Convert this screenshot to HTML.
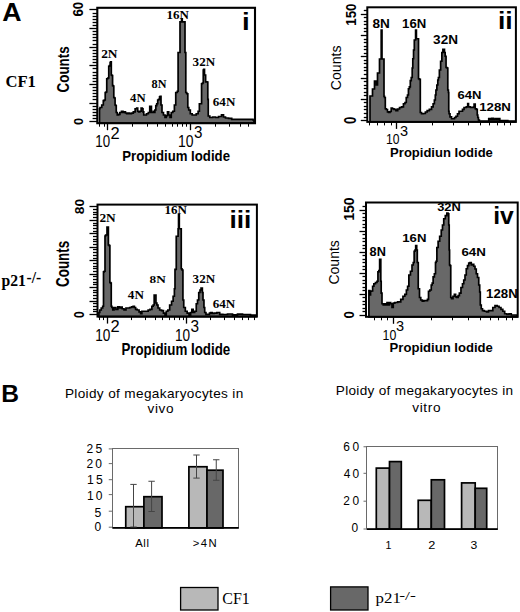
<!DOCTYPE html><html><head><meta charset="utf-8"><style>html,body{margin:0;padding:0;background:#fff;}svg{display:block;}</style></head><body>
<svg width="520" height="612" viewBox="0 0 520 612">
<rect width="520" height="612" fill="#fff"/>
<text transform="translate(2.23 20.5) scale(1.0092 1)" font-family="'Liberation Sans', sans-serif" font-weight="bold" font-size="26.473" fill="#000" >A</text>
<text transform="translate(1.34 402) scale(0.9945 1)" font-family="'Liberation Sans', sans-serif" font-weight="bold" font-size="24.727" fill="#000" >B</text>
<text transform="translate(5.42 86.9) scale(0.9743 1)" font-family="'Liberation Serif', serif" font-weight="bold" font-size="17.057" fill="#000" >CF1</text>
<text transform="translate(1.5 286.2) scale(0.9207 1)" font-family="'Liberation Serif', serif" font-weight="bold" font-size="17.057" fill="#000" >p21</text>
<text transform="translate(26.62 282.7) scale(0.9109 1)" font-family="'Liberation Serif', serif" font-weight="bold" font-size="17.034" fill="#000" >-/-</text>
<path d="M99.5,123.2 L99.5,108.75 L100,108.75 L100,107.5 L100.5,107.5 L101.75,107.5 L101.75,105 L103,105 L103.3,105 L103.3,100.6 L103.6,100.6 L104.25,100.6 L104.25,100 L104.9,100 L105.2,100 L105.2,92.5 L105.5,92.5 L106,92.5 L106,92 L106.5,92 L106.75,92 L106.75,78.75 L107,78.75 L107.75,78.75 L107.75,78 L108.5,78 L108.75,78 L108.75,66.25 L109,66.25 L109.5,66.25 L109.5,65.5 L110,65.5 L110.12,65.5 L110.12,62.5 L110.25,62.5 L110.67,62.5 L110.67,61.9 L111.1,61.9 L111.3,61.9 L111.3,75 L111.5,75 L111.95,75 L111.95,75.5 L112.4,75.5 L112.58,75.5 L112.58,85.6 L112.75,85.6 L113.17,85.6 L113.17,86 L113.6,86 L113.8,86 L113.8,97.5 L114,97.5 L114.45,97.5 L114.45,98 L114.9,98 L115.08,98 L115.08,105 L115.25,105 L115.62,105 L115.62,105.5 L116,105.5 L116.25,105.5 L116.25,112.5 L116.5,112.5 L117.25,112.5 L117.25,115 L118,115 L118.62,115 L118.62,114.4 L119.25,114.4 L119.88,114.4 L119.88,112.5 L120.5,112.5 L121.45,112.5 L121.45,111.25 L122.4,111.25 L123,111.25 L123,112.5 L123.6,112.5 L124.25,112.5 L124.25,111.9 L124.9,111.9 L125.45,111.9 L125.45,113 L126,113 L126.7,113 L126.7,113.75 L127.4,113.75 L128,113.75 L128,113.1 L128.6,113.1 L129.55,113.1 L129.55,113.75 L130.5,113.75 L131.45,113.75 L131.45,113.1 L132.4,113.1 L133.32,113.1 L133.32,111.9 L134.25,111.9 L135.12,111.9 L135.12,108.75 L136,108.75 L136.7,108.75 L136.7,108.1 L137.4,108.1 L137.7,108.1 L137.7,111.25 L138,111.25 L138.62,111.25 L138.62,111.9 L139.25,111.9 L139.88,111.9 L139.88,111.25 L140.5,111.25 L141.12,111.25 L141.12,108 L141.75,108 L142.25,108 L142.25,108.75 L142.75,108.75 L143,108.75 L143,111.9 L143.25,111.9 L143.75,111.9 L143.75,115 L144.25,115 L145.5,115 L146.45,115 L146.45,113.75 L147.4,113.75 L148.32,113.75 L148.32,112.5 L149.25,112.5 L149.75,112.5 L149.75,106.25 L150.25,106.25 L151.1,106.25 L151.43,106.25 L151.43,112.5 L151.75,112.5 L153,112.5 L153.3,112.5 L153.3,111.25 L153.6,111.25 L153.93,111.25 L153.93,112.5 L154.25,112.5 L154.88,112.5 L154.88,110 L155.5,110 L155.8,110 L155.8,105.6 L156.1,105.6 L156.75,105.6 L156.75,103.75 L157.4,103.75 L157.7,103.75 L157.7,100 L158,100 L158.62,100 L158.62,99.4 L159.25,99.4 L159.57,99.4 L159.57,96.9 L159.9,96.9 L160.2,96.9 L160.2,96.25 L160.5,96.25 L161,96.25 L161,105 L161.5,105 L162,105 L162,112.5 L162.5,112.5 L163.45,112.5 L163.45,115 L164.4,115 L165,115 L165,117.5 L165.6,117.5 L166.25,117.5 L166.25,115.6 L166.9,115.6 L167.5,115.6 L167.5,111.9 L168.1,111.9 L168.75,111.9 L168.75,115 L169.4,115 L170,115 L170,117.5 L170.6,117.5 L171.25,117.5 L171.25,112.5 L171.9,112.5 L172.82,112.5 L172.82,111.25 L173.75,111.25 L174.38,111.25 L174.38,105 L175,105 L175.75,105 L175.75,92.5 L176.5,92.5 L177.3,92.5 L177.3,91.25 L178.1,91.25 L178.1,52.5 L180,52.5 L180,21.9 L181.5,21.9 L181.55,21.9 L181.55,18.75 L181.6,18.75 L182.2,18.75 L182.25,18.75 L182.25,21.9 L182.3,21.9 L185,21.9 L185,52.5 L185.6,52.5 L185.8,52.5 L185.8,92.5 L186,92.5 L186.75,92.5 L186.75,93.75 L187.5,93.75 L187.8,93.75 L187.8,107.5 L188.1,107.5 L188.75,107.5 L188.75,110 L189.4,110 L190.32,110 L190.32,113.75 L191.25,113.75 L192.18,113.75 L192.18,115 L193.1,115 L195,115 L196.25,115 L196.25,113.75 L197.5,113.75 L198.12,113.75 L198.12,111.25 L198.75,111.25 L199.38,111.25 L199.38,103.75 L200,103.75 L201.25,103.75 L201.57,103.75 L201.57,83.75 L201.9,83.75 L202.45,83.75 L202.45,83 L203,83 L203.25,83 L203.25,70 L203.5,70 L203.75,70 L203.75,69.4 L204,69.4 L204.5,69.4 L204.5,75 L205,75 L205.62,75 L205.62,81.9 L206.25,81.9 L206.88,81.9 L206.88,82 L207.5,82 L207.8,82 L207.8,99.4 L208.1,99.4 L208.25,99.4 L208.25,116 L208.4,116 L209.82,116 L209.82,117.5 L211.25,117.5 L212.62,117.5 L212.62,117 L214,117 L215.5,117 L215.5,117.5 L217,117.5 L218.5,117.5 L218.5,116.5 L220,116.5 L221.5,116.5 L221.5,114.8 L223,114.8 L223.5,114.8 L223.5,117 L224,117 L225.5,117 L225.5,118 L227,118 L228.5,118 L228.5,118.3 L230,118.3 L231.7,118.3 L231.7,119.4 L233.4,119.4 L251.9,119.4 L252.95,119.4 L252.95,120 L254,120 L254,123.2 Z" fill="#686868" stroke="#000" stroke-width="1.7" stroke-linejoin="miter"/>
<rect x="97.3" y="7.8" width="157.7" height="115.4" fill="none" stroke="#000" stroke-width="2.1"/>
<line x1="89.4" y1="121.5" x2="97.4" y2="121.5" stroke="#000" stroke-width="1.3"/>
<line x1="92.6" y1="118.5" x2="97.4" y2="118.5" stroke="#000" stroke-width="1.3"/>
<line x1="92.6" y1="115.5" x2="97.4" y2="115.5" stroke="#000" stroke-width="1.3"/>
<line x1="92.6" y1="112.5" x2="97.4" y2="112.5" stroke="#000" stroke-width="1.3"/>
<line x1="92.6" y1="109.5" x2="97.4" y2="109.5" stroke="#000" stroke-width="1.3"/>
<line x1="92.6" y1="106.5" x2="97.4" y2="106.5" stroke="#000" stroke-width="1.3"/>
<line x1="89.4" y1="103.5" x2="97.4" y2="103.5" stroke="#000" stroke-width="1.3"/>
<line x1="92.6" y1="99.5" x2="97.4" y2="99.5" stroke="#000" stroke-width="1.3"/>
<line x1="92.6" y1="96.5" x2="97.4" y2="96.5" stroke="#000" stroke-width="1.3"/>
<line x1="92.6" y1="93.5" x2="97.4" y2="93.5" stroke="#000" stroke-width="1.3"/>
<line x1="92.6" y1="90.5" x2="97.4" y2="90.5" stroke="#000" stroke-width="1.3"/>
<line x1="92.6" y1="87.5" x2="97.4" y2="87.5" stroke="#000" stroke-width="1.3"/>
<line x1="89.4" y1="84.5" x2="97.4" y2="84.5" stroke="#000" stroke-width="1.3"/>
<line x1="92.6" y1="81.5" x2="97.4" y2="81.5" stroke="#000" stroke-width="1.3"/>
<line x1="92.6" y1="78.5" x2="97.4" y2="78.5" stroke="#000" stroke-width="1.3"/>
<line x1="92.6" y1="75.5" x2="97.4" y2="75.5" stroke="#000" stroke-width="1.3"/>
<line x1="92.6" y1="72.5" x2="97.4" y2="72.5" stroke="#000" stroke-width="1.3"/>
<line x1="92.6" y1="68.5" x2="97.4" y2="68.5" stroke="#000" stroke-width="1.3"/>
<line x1="89.4" y1="65.5" x2="97.4" y2="65.5" stroke="#000" stroke-width="1.3"/>
<line x1="92.6" y1="62.5" x2="97.4" y2="62.5" stroke="#000" stroke-width="1.3"/>
<line x1="92.6" y1="59.5" x2="97.4" y2="59.5" stroke="#000" stroke-width="1.3"/>
<line x1="92.6" y1="56.5" x2="97.4" y2="56.5" stroke="#000" stroke-width="1.3"/>
<line x1="92.6" y1="53.5" x2="97.4" y2="53.5" stroke="#000" stroke-width="1.3"/>
<line x1="92.6" y1="50.5" x2="97.4" y2="50.5" stroke="#000" stroke-width="1.3"/>
<line x1="89.4" y1="47.5" x2="97.4" y2="47.5" stroke="#000" stroke-width="1.3"/>
<line x1="92.6" y1="44.5" x2="97.4" y2="44.5" stroke="#000" stroke-width="1.3"/>
<line x1="92.6" y1="40.5" x2="97.4" y2="40.5" stroke="#000" stroke-width="1.3"/>
<line x1="92.6" y1="37.5" x2="97.4" y2="37.5" stroke="#000" stroke-width="1.3"/>
<line x1="92.6" y1="34.5" x2="97.4" y2="34.5" stroke="#000" stroke-width="1.3"/>
<line x1="92.6" y1="31.5" x2="97.4" y2="31.5" stroke="#000" stroke-width="1.3"/>
<line x1="89.4" y1="28.5" x2="97.4" y2="28.5" stroke="#000" stroke-width="1.3"/>
<line x1="92.6" y1="25.5" x2="97.4" y2="25.5" stroke="#000" stroke-width="1.3"/>
<line x1="92.6" y1="22.5" x2="97.4" y2="22.5" stroke="#000" stroke-width="1.3"/>
<line x1="92.6" y1="19.5" x2="97.4" y2="19.5" stroke="#000" stroke-width="1.3"/>
<line x1="92.6" y1="16.5" x2="97.4" y2="16.5" stroke="#000" stroke-width="1.3"/>
<line x1="92.6" y1="13.5" x2="97.4" y2="13.5" stroke="#000" stroke-width="1.3"/>
<line x1="89.4" y1="9.5" x2="97.4" y2="9.5" stroke="#000" stroke-width="1.3"/>
<line x1="99.5" y1="123.2" x2="99.5" y2="126.7" stroke="#000" stroke-width="1.0"/>
<line x1="104.5" y1="123.2" x2="104.5" y2="126.7" stroke="#000" stroke-width="1.0"/>
<line x1="107.5" y1="123.2" x2="107.5" y2="130.2" stroke="#000" stroke-width="1.3"/>
<line x1="132.5" y1="123.2" x2="132.5" y2="126.7" stroke="#000" stroke-width="1.0"/>
<line x1="147.5" y1="123.2" x2="147.5" y2="126.7" stroke="#000" stroke-width="1.0"/>
<line x1="157.5" y1="123.2" x2="157.5" y2="126.7" stroke="#000" stroke-width="1.0"/>
<line x1="165.5" y1="123.2" x2="165.5" y2="126.7" stroke="#000" stroke-width="1.0"/>
<line x1="172.5" y1="123.2" x2="172.5" y2="126.7" stroke="#000" stroke-width="1.0"/>
<line x1="177.5" y1="123.2" x2="177.5" y2="126.7" stroke="#000" stroke-width="1.0"/>
<line x1="182.5" y1="123.2" x2="182.5" y2="126.7" stroke="#000" stroke-width="1.0"/>
<line x1="186.5" y1="123.2" x2="186.5" y2="126.7" stroke="#000" stroke-width="1.0"/>
<line x1="190.5" y1="123.2" x2="190.5" y2="130.2" stroke="#000" stroke-width="1.3"/>
<line x1="215.5" y1="123.2" x2="215.5" y2="126.7" stroke="#000" stroke-width="1.0"/>
<line x1="229.5" y1="123.2" x2="229.5" y2="126.7" stroke="#000" stroke-width="1.0"/>
<line x1="240.5" y1="123.2" x2="240.5" y2="126.7" stroke="#000" stroke-width="1.0"/>
<line x1="248.5" y1="123.2" x2="248.5" y2="126.7" stroke="#000" stroke-width="1.0"/>
<text transform="translate(83 16.5) rotate(-90) scale(0.9255 1)" font-family="'Liberation Sans', sans-serif" font-weight="bold" font-size="14.337">60</text>
<text transform="translate(83 125.11) rotate(-90) scale(0.9953 1)" font-family="'Liberation Sans', sans-serif" font-weight="bold" font-size="12.903">0</text>
<text transform="translate(68.8 92.44) rotate(-90) scale(0.7715 1)" font-family="'Liberation Sans', sans-serif" font-weight="bold" font-size="17.348">Counts</text>
<text transform="translate(95.3 147.4) scale(0.8017 1)" font-family="'Liberation Sans', sans-serif" font-weight="normal" font-size="16.631" fill="#000" >10</text>
<text transform="translate(110.48 139.3) scale(0.9743 1)" font-family="'Liberation Sans', sans-serif" font-weight="normal" font-size="16.918" fill="#000" >2</text>
<text transform="translate(177.95 146.9) scale(0.8379 1)" font-family="'Liberation Sans', sans-serif" font-weight="normal" font-size="16.631" fill="#000" >10</text>
<text transform="translate(194.03 138.4) scale(0.9440 1)" font-family="'Liberation Sans', sans-serif" font-weight="normal" font-size="16.057" fill="#000" >3</text>
<text transform="translate(122.21 160.75) scale(0.9162 1)" font-family="'Liberation Sans', sans-serif" font-weight="bold" font-size="14.414" fill="#000" >Propidium Iodide</text>
<text transform="translate(101.18 58.1) scale(1.0964 1)" font-family="'Liberation Serif', serif" font-weight="bold" font-size="12.226" fill="#000" >2N</text>
<text transform="translate(130.09 101.9) scale(1.0274 1)" font-family="'Liberation Serif', serif" font-weight="bold" font-size="12.395" fill="#000" >4N</text>
<text transform="translate(151.6 87.5) scale(1.0000 1)" font-family="'Liberation Serif', serif" font-weight="bold" font-size="12.180" fill="#000" >8N</text>
<text transform="translate(166.46 18.75) scale(0.9871 1)" font-family="'Liberation Serif', serif" font-weight="bold" font-size="13.208" fill="#000" >16N</text>
<text transform="translate(192.61 66.25) scale(1.0644 1)" font-family="'Liberation Serif', serif" font-weight="bold" font-size="12.302" fill="#000" >32N</text>
<text transform="translate(212.84 106.1) scale(1.0072 1)" font-family="'Liberation Serif', serif" font-weight="bold" font-size="12.981" fill="#000" >64N</text>
<text transform="translate(242.07 29.8) scale(1.1256 1)" font-family="'Liberation Sans', sans-serif" font-weight="bold" font-size="24.552" fill="#000" >i</text>
<path d="M370,121.9 L370,96 L372.5,96 L372.5,89 L374.5,89 L374.5,81 L376,81 L376.25,81 L376.25,85 L376.5,85 L377.5,85 L377.5,73 L379.5,73 L379.5,59 L381.2,59 L381.2,30 L382,30 L382,59 L384,59 L384,96.25 L384.5,96.25 L384.5,97.5 L385,97.5 L385.3,97.5 L385.3,108.75 L385.6,108.75 L386.3,108.75 L386.3,109.5 L387,109.5 L387.5,109.5 L387.5,111.9 L388,111.9 L388.7,111.9 L388.7,112.5 L389.4,112.5 L389.95,112.5 L389.95,111.5 L390.5,111.5 L391.2,111.5 L391.2,108.1 L391.9,108.1 L392.45,108.1 L392.45,108.75 L393,108.75 L394,108.75 L394,109.4 L395,109.4 L395.95,109.4 L395.95,110.6 L396.9,110.6 L397.7,110.6 L397.7,109 L398.5,109 L399.55,109 L399.55,107.5 L400.6,107.5 L401.55,107.5 L401.55,106.9 L402.5,106.9 L403.45,106.9 L403.45,103.75 L404.4,103.75 L405,103.75 L405,102.5 L405.6,102.5 L406.25,102.5 L406.25,97.5 L406.9,97.5 L407.5,97.5 L407.5,95 L408.1,95 L408.43,95 L408.43,88.75 L408.75,88.75 L409.38,88.75 L409.38,86.9 L410,86.9 L410.3,86.9 L410.3,80.6 L410.6,80.6 L411.25,80.6 L411.25,77.5 L411.9,77.5 L412.2,77.5 L412.2,68 L412.5,68 L412.8,68 L412.8,58.75 L413.1,58.75 L413.55,58.75 L413.55,50 L414,50 L414.3,50 L414.3,40 L414.6,40 L415.6,40 L415.6,30 L416.4,30 L416.4,38.75 L418.3,38.75 L418.52,38.75 L418.52,78.75 L418.75,78.75 L419.38,78.75 L419.38,79.4 L420,79.4 L420.3,79.4 L420.3,112.5 L420.6,112.5 L421.55,112.5 L421.55,113.75 L422.5,113.75 L423.5,113.75 L423.5,113.5 L424.5,113.5 L425.38,113.5 L425.38,112 L426.25,112 L427.18,112 L427.18,110.6 L428.1,110.6 L429.35,110.6 L429.35,109.4 L430.6,109.4 L431.55,109.4 L431.55,106.9 L432.5,106.9 L433.12,106.9 L433.12,103.75 L433.75,103.75 L434.38,103.75 L434.38,100 L435,100 L435.3,100 L435.3,95 L435.6,95 L435.93,95 L435.93,90 L436.25,90 L436.88,90 L436.88,85 L437.5,85 L437.8,85 L437.8,80 L438.1,80 L438.43,80 L438.43,77.5 L438.75,77.5 L439.38,77.5 L439.38,70 L440,70 L440.62,70 L440.62,61.25 L441.25,61.25 L441.88,61.25 L441.88,52.5 L442.5,52.5 L442.9,52.5 L442.9,49.4 L443.3,49.4 L444.2,49.4 L444.48,49.4 L444.48,52.5 L444.75,52.5 L445.18,52.5 L445.18,56.25 L445.6,56.25 L446.05,56.25 L446.05,67.5 L446.5,67.5 L447,67.5 L447,68 L447.5,68 L447.8,68 L447.8,90 L448.1,90 L448.43,90 L448.43,92.5 L448.75,92.5 L448.75,111.25 L449.07,111.25 L449.07,113.75 L449.4,113.75 L450,113.75 L450,116.9 L450.6,116.9 L451.55,116.9 L451.55,118.75 L452.5,118.75 L454,118.75 L454.5,118.75 L454.5,117.5 L455,117.5 L455.95,117.5 L455.95,116.25 L456.9,116.25 L457.5,116.25 L457.5,113.75 L458.1,113.75 L459.05,113.75 L459.05,111.25 L460,111.25 L461.9,111.25 L462.5,111.25 L462.5,109.4 L463.1,109.4 L464.05,109.4 L464.05,107.5 L465,107.5 L466.3,107.5 L466.3,106.9 L467.6,106.9 L467.7,106.9 L467.7,103.5 L467.8,103.5 L468.4,103.5 L468.5,103.5 L468.5,106.9 L468.6,106.9 L470.55,106.9 L470.55,107.5 L472.5,107.5 L473.25,107.5 L473.25,107 L474,107 L474.1,107 L474.1,104 L474.2,104 L474.8,104 L475.2,104 L475.2,108.75 L475.6,108.75 L476.3,108.75 L476.3,109.4 L477,109.4 L477.25,109.4 L477.25,115 L477.5,115 L477.8,115 L477.8,117.5 L478.1,117.5 L478.43,117.5 L478.43,120 L478.75,120 L479.38,120 L479.38,121 L480,121 L488,121 L488.75,121 L488.75,118.5 L489.5,118.5 L490.25,118.5 L490.25,120 L491,120 L491.75,120 L491.75,118.3 L492.5,118.3 L493.25,118.3 L493.25,120 L494,120 L495,120 L495,118.5 L496,118.5 L496.75,118.5 L496.75,120 L497.5,120 L498.25,120 L498.25,118.5 L499,118.5 L499.8,118.5 L499.8,120.5 L500.6,120.5 L507.8,120.5 L507.8,121 L515,121 L515,121.9 Z" fill="#686868" stroke="#000" stroke-width="1.7" stroke-linejoin="miter"/>
<rect x="367.3" y="7.3" width="148.6" height="114.6" fill="none" stroke="#000" stroke-width="2.0"/>
<line x1="360.8" y1="120.5" x2="367.3" y2="120.5" stroke="#000" stroke-width="1.3"/>
<line x1="363.8" y1="117.5" x2="367.3" y2="117.5" stroke="#000" stroke-width="1.3"/>
<line x1="363.8" y1="113.5" x2="367.3" y2="113.5" stroke="#000" stroke-width="1.3"/>
<line x1="363.8" y1="109.5" x2="367.3" y2="109.5" stroke="#000" stroke-width="1.3"/>
<line x1="363.8" y1="106.5" x2="367.3" y2="106.5" stroke="#000" stroke-width="1.3"/>
<line x1="363.8" y1="102.5" x2="367.3" y2="102.5" stroke="#000" stroke-width="1.3"/>
<line x1="360.8" y1="99.5" x2="367.3" y2="99.5" stroke="#000" stroke-width="1.3"/>
<line x1="363.8" y1="95.5" x2="367.3" y2="95.5" stroke="#000" stroke-width="1.3"/>
<line x1="363.8" y1="92.5" x2="367.3" y2="92.5" stroke="#000" stroke-width="1.3"/>
<line x1="363.8" y1="88.5" x2="367.3" y2="88.5" stroke="#000" stroke-width="1.3"/>
<line x1="363.8" y1="85.5" x2="367.3" y2="85.5" stroke="#000" stroke-width="1.3"/>
<line x1="363.8" y1="81.5" x2="367.3" y2="81.5" stroke="#000" stroke-width="1.3"/>
<line x1="360.8" y1="78.5" x2="367.3" y2="78.5" stroke="#000" stroke-width="1.3"/>
<line x1="363.8" y1="74.5" x2="367.3" y2="74.5" stroke="#000" stroke-width="1.3"/>
<line x1="363.8" y1="70.5" x2="367.3" y2="70.5" stroke="#000" stroke-width="1.3"/>
<line x1="363.8" y1="67.5" x2="367.3" y2="67.5" stroke="#000" stroke-width="1.3"/>
<line x1="363.8" y1="63.5" x2="367.3" y2="63.5" stroke="#000" stroke-width="1.3"/>
<line x1="363.8" y1="60.5" x2="367.3" y2="60.5" stroke="#000" stroke-width="1.3"/>
<line x1="360.8" y1="56.5" x2="367.3" y2="56.5" stroke="#000" stroke-width="1.3"/>
<line x1="363.8" y1="53.5" x2="367.3" y2="53.5" stroke="#000" stroke-width="1.3"/>
<line x1="363.8" y1="49.5" x2="367.3" y2="49.5" stroke="#000" stroke-width="1.3"/>
<line x1="363.8" y1="46.5" x2="367.3" y2="46.5" stroke="#000" stroke-width="1.3"/>
<line x1="363.8" y1="42.5" x2="367.3" y2="42.5" stroke="#000" stroke-width="1.3"/>
<line x1="363.8" y1="39.5" x2="367.3" y2="39.5" stroke="#000" stroke-width="1.3"/>
<line x1="360.8" y1="35.5" x2="367.3" y2="35.5" stroke="#000" stroke-width="1.3"/>
<line x1="363.8" y1="31.5" x2="367.3" y2="31.5" stroke="#000" stroke-width="1.3"/>
<line x1="363.8" y1="28.5" x2="367.3" y2="28.5" stroke="#000" stroke-width="1.3"/>
<line x1="363.8" y1="24.5" x2="367.3" y2="24.5" stroke="#000" stroke-width="1.3"/>
<line x1="363.8" y1="21.5" x2="367.3" y2="21.5" stroke="#000" stroke-width="1.3"/>
<line x1="363.8" y1="17.5" x2="367.3" y2="17.5" stroke="#000" stroke-width="1.3"/>
<line x1="360.8" y1="14.5" x2="367.3" y2="14.5" stroke="#000" stroke-width="1.3"/>
<line x1="363.8" y1="10.5" x2="367.3" y2="10.5" stroke="#000" stroke-width="1.3"/>
<line x1="369.5" y1="121.9" x2="369.5" y2="125.4" stroke="#000" stroke-width="1.0"/>
<line x1="377.5" y1="121.9" x2="377.5" y2="125.4" stroke="#000" stroke-width="1.0"/>
<line x1="384.5" y1="121.9" x2="384.5" y2="125.4" stroke="#000" stroke-width="1.0"/>
<line x1="391.5" y1="121.9" x2="391.5" y2="125.4" stroke="#000" stroke-width="1.0"/>
<line x1="396.5" y1="121.9" x2="396.5" y2="128.9" stroke="#000" stroke-width="1.3"/>
<line x1="432.5" y1="121.9" x2="432.5" y2="125.4" stroke="#000" stroke-width="1.0"/>
<line x1="453.5" y1="121.9" x2="453.5" y2="125.4" stroke="#000" stroke-width="1.0"/>
<line x1="468.5" y1="121.9" x2="468.5" y2="125.4" stroke="#000" stroke-width="1.0"/>
<line x1="480.5" y1="121.9" x2="480.5" y2="125.4" stroke="#000" stroke-width="1.0"/>
<line x1="489.5" y1="121.9" x2="489.5" y2="125.4" stroke="#000" stroke-width="1.0"/>
<line x1="497.5" y1="121.9" x2="497.5" y2="125.4" stroke="#000" stroke-width="1.0"/>
<line x1="504.5" y1="121.9" x2="504.5" y2="125.4" stroke="#000" stroke-width="1.0"/>
<line x1="510.5" y1="121.9" x2="510.5" y2="125.4" stroke="#000" stroke-width="1.0"/>
<text transform="translate(355.6 25.73) rotate(-90) scale(0.8625 1)" font-family="'Liberation Sans', sans-serif" font-weight="bold" font-size="15.484">150</text>
<text transform="translate(355.8 123.93) rotate(-90) scale(0.8410 1)" font-family="'Liberation Sans', sans-serif" font-weight="bold" font-size="15.771">0</text>
<text transform="translate(340.6 90.21) rotate(-90) scale(0.9556 1)" font-family="'Liberation Sans', sans-serif" font-weight="normal" font-size="14.767">Counts</text>
<text transform="translate(385.99 143.8) scale(0.7907 1)" font-family="'Liberation Sans', sans-serif" font-weight="normal" font-size="15.341" fill="#000" >10</text>
<text transform="translate(399.96 136.3) scale(0.9469 1)" font-family="'Liberation Sans', sans-serif" font-weight="normal" font-size="15.341" fill="#000" >3</text>
<text transform="translate(390.12 157.3) scale(1.0161 1)" font-family="'Liberation Sans', sans-serif" font-weight="bold" font-size="12.828" fill="#000" >Propidiun Iodide</text>
<text transform="translate(372.56 27.6) scale(1.0770 1)" font-family="'Liberation Sans', sans-serif" font-weight="bold" font-size="12.616" fill="#000" >8N</text>
<text transform="translate(402.08 27.9) scale(1.0580 1)" font-family="'Liberation Sans', sans-serif" font-weight="bold" font-size="12.473" fill="#000" >16N</text>
<text transform="translate(433.09 44) scale(1.0297 1)" font-family="'Liberation Sans', sans-serif" font-weight="bold" font-size="13.190" fill="#000" >32N</text>
<text transform="translate(457.51 98.75) scale(1.1180 1)" font-family="'Liberation Sans', sans-serif" font-weight="bold" font-size="11.685" fill="#000" >64N</text>
<text transform="translate(479.17 111.25) scale(1.1361 1)" font-family="'Liberation Sans', sans-serif" font-weight="bold" font-size="11.685" fill="#000" >128N</text>
<text transform="translate(497.94 28.8) scale(1.0796 1)" font-family="'Liberation Sans', sans-serif" font-weight="bold" font-size="24.552" fill="#000" >ii</text>
<path d="M98.9,316.6 L98.9,312.5 L99.75,312.5 L99.75,310 L100.6,310 L101.25,310 L101.25,308 L101.9,308 L102.7,308 L102.7,306.25 L103.5,306.25 L103.5,271.9 L104.25,271.9 L104.25,271.25 L105,271.25 L105,236 L105.62,236 L105.62,235 L106.25,235 L107,235 L107,227 L108,227 L108.38,227 L108.38,245 L108.75,245 L109.25,245 L109.25,245.6 L109.75,245.6 L109.88,245.6 L109.88,282.5 L110,282.5 L110.62,282.5 L110.62,283.1 L111.25,283.1 L111.25,306.25 L111.88,306.25 L111.88,307.5 L112.5,307.5 L112.8,307.5 L112.8,310 L113.1,310 L114.05,310 L114.05,307.5 L115,307.5 L115.95,307.5 L115.95,309.4 L116.9,309.4 L117.83,309.4 L117.83,306.9 L118.75,306.9 L119.38,306.9 L119.38,308 L120,308 L120.62,308 L120.62,307 L121.25,307 L122.17,307 L122.17,308.75 L123.1,308.75 L124.05,308.75 L124.05,310 L125,310 L125.95,310 L125.95,308 L126.9,308 L128.75,308 L129.68,308 L129.68,307.5 L130.6,307.5 L131.55,307.5 L131.55,306.9 L132.5,306.9 L133.12,306.9 L133.12,306.25 L133.75,306.25 L134.38,306.25 L134.38,307.5 L135,307.5 L135.62,307.5 L135.62,309.4 L136.25,309.4 L137.18,309.4 L137.18,310 L138.1,310 L139.05,310 L139.05,311.9 L140,311.9 L140.62,311.9 L140.62,313.75 L141.25,313.75 L141.88,313.75 L141.88,311.25 L142.5,311.25 L145,311.25 L147.5,311.25 L148.12,311.25 L148.12,310 L148.75,310 L150,310 L150,309.4 L151.25,309.4 L151.88,309.4 L151.88,306.25 L152.5,306.25 L153.12,306.25 L153.12,305 L153.75,305 L154.18,305 L154.18,295 L154.6,295 L155.4,295 L155.95,295 L155.95,303 L156.5,303 L156.88,303 L156.88,305 L157.25,305 L158,305 L158,308 L158.75,308 L159.68,308 L159.68,310 L160.6,310 L161.55,310 L161.55,310.6 L162.5,310.6 L163.45,310.6 L163.45,313.1 L164.4,313.1 L165,313.1 L165,315 L165.6,315 L166.25,315 L166.25,311.25 L166.9,311.25 L167.82,311.25 L167.82,310 L168.75,310 L169.68,310 L169.68,305 L170.6,305 L171.55,305 L171.55,301.25 L172.5,301.25 L173.12,301.25 L173.12,296.25 L173.75,296.25 L174.38,296.25 L174.38,288.75 L175,288.75 L175,269.4 L176.25,269.4 L176.25,236.25 L178.1,236.25 L178.1,228.75 L178.5,228.75 L178.55,228.75 L178.55,214.4 L178.6,214.4 L179.2,214.4 L179.3,214.4 L179.3,228.75 L179.4,228.75 L181.25,228.75 L181.25,268.75 L182,268.75 L182,270 L182.75,270 L182.93,270 L182.93,300 L183.1,300 L183.75,300 L183.75,307.5 L184.4,307.5 L185.32,307.5 L185.32,311.25 L186.25,311.25 L187.18,311.25 L187.18,313.1 L188.1,313.1 L189.05,313.1 L189.05,315 L190,315 L190.62,315 L190.62,312.5 L191.25,312.5 L191.88,312.5 L191.88,309.4 L192.5,309.4 L193.12,309.4 L193.12,312.5 L193.75,312.5 L194.68,312.5 L194.68,311.25 L195.6,311.25 L196.25,311.25 L196.25,303.75 L196.9,303.75 L197.5,303.75 L197.5,300 L198.1,300 L198.75,300 L198.75,292.5 L199.4,292.5 L200,292.5 L200,290 L200.6,290 L201.05,290 L201.05,288.1 L201.5,288.1 L202.2,288.1 L202.35,288.1 L202.35,292.5 L202.5,292.5 L203,292.5 L203,300 L203.5,300 L203.95,300 L203.95,307.5 L204.4,307.5 L204.7,307.5 L204.7,312.5 L205,312.5 L205.95,312.5 L205.95,314.4 L206.9,314.4 L209,314.4 L209.5,314.4 L209.5,313.1 L210,313.1 L210.62,313.1 L210.62,312.5 L211.25,312.5 L212.12,312.5 L212.12,313.5 L213,313.5 L214,313.5 L214,313.1 L215,313.1 L216.88,313.1 L216.88,312.5 L218.75,312.5 L219.68,312.5 L219.68,314.4 L220.6,314.4 L222.8,314.4 L222.8,314.5 L225,314.5 L227.5,314.5 L227.5,314 L230,314 L232.5,314 L232.5,314.8 L235,314.8 L237.5,314.8 L237.5,314.2 L240,314.2 L242.5,314.2 L242.5,314.5 L245,314.5 L250.5,314.5 L250.5,315 L256,315 L256,316.6 Z" fill="#686868" stroke="#000" stroke-width="1.7" stroke-linejoin="miter"/>
<rect x="97.5" y="204.6" width="159.4" height="112" fill="none" stroke="#000" stroke-width="2.0"/>
<line x1="89.5" y1="314.5" x2="97.5" y2="314.5" stroke="#000" stroke-width="1.3"/>
<line x1="93" y1="311.5" x2="97.5" y2="311.5" stroke="#000" stroke-width="1.3"/>
<line x1="93" y1="309.5" x2="97.5" y2="309.5" stroke="#000" stroke-width="1.3"/>
<line x1="93" y1="306.5" x2="97.5" y2="306.5" stroke="#000" stroke-width="1.3"/>
<line x1="93" y1="303.5" x2="97.5" y2="303.5" stroke="#000" stroke-width="1.3"/>
<line x1="89.5" y1="301.5" x2="97.5" y2="301.5" stroke="#000" stroke-width="1.3"/>
<line x1="93" y1="298.5" x2="97.5" y2="298.5" stroke="#000" stroke-width="1.3"/>
<line x1="93" y1="295.5" x2="97.5" y2="295.5" stroke="#000" stroke-width="1.3"/>
<line x1="93" y1="292.5" x2="97.5" y2="292.5" stroke="#000" stroke-width="1.3"/>
<line x1="93" y1="290.5" x2="97.5" y2="290.5" stroke="#000" stroke-width="1.3"/>
<line x1="89.5" y1="287.5" x2="97.5" y2="287.5" stroke="#000" stroke-width="1.3"/>
<line x1="93" y1="284.5" x2="97.5" y2="284.5" stroke="#000" stroke-width="1.3"/>
<line x1="93" y1="282.5" x2="97.5" y2="282.5" stroke="#000" stroke-width="1.3"/>
<line x1="93" y1="279.5" x2="97.5" y2="279.5" stroke="#000" stroke-width="1.3"/>
<line x1="93" y1="276.5" x2="97.5" y2="276.5" stroke="#000" stroke-width="1.3"/>
<line x1="89.5" y1="274.5" x2="97.5" y2="274.5" stroke="#000" stroke-width="1.3"/>
<line x1="93" y1="271.5" x2="97.5" y2="271.5" stroke="#000" stroke-width="1.3"/>
<line x1="93" y1="268.5" x2="97.5" y2="268.5" stroke="#000" stroke-width="1.3"/>
<line x1="93" y1="266.5" x2="97.5" y2="266.5" stroke="#000" stroke-width="1.3"/>
<line x1="93" y1="263.5" x2="97.5" y2="263.5" stroke="#000" stroke-width="1.3"/>
<line x1="89.5" y1="260.5" x2="97.5" y2="260.5" stroke="#000" stroke-width="1.3"/>
<line x1="93" y1="258.5" x2="97.5" y2="258.5" stroke="#000" stroke-width="1.3"/>
<line x1="93" y1="255.5" x2="97.5" y2="255.5" stroke="#000" stroke-width="1.3"/>
<line x1="93" y1="252.5" x2="97.5" y2="252.5" stroke="#000" stroke-width="1.3"/>
<line x1="93" y1="249.5" x2="97.5" y2="249.5" stroke="#000" stroke-width="1.3"/>
<line x1="89.5" y1="247.5" x2="97.5" y2="247.5" stroke="#000" stroke-width="1.3"/>
<line x1="93" y1="244.5" x2="97.5" y2="244.5" stroke="#000" stroke-width="1.3"/>
<line x1="93" y1="241.5" x2="97.5" y2="241.5" stroke="#000" stroke-width="1.3"/>
<line x1="93" y1="239.5" x2="97.5" y2="239.5" stroke="#000" stroke-width="1.3"/>
<line x1="93" y1="236.5" x2="97.5" y2="236.5" stroke="#000" stroke-width="1.3"/>
<line x1="89.5" y1="233.5" x2="97.5" y2="233.5" stroke="#000" stroke-width="1.3"/>
<line x1="93" y1="231.5" x2="97.5" y2="231.5" stroke="#000" stroke-width="1.3"/>
<line x1="93" y1="228.5" x2="97.5" y2="228.5" stroke="#000" stroke-width="1.3"/>
<line x1="93" y1="225.5" x2="97.5" y2="225.5" stroke="#000" stroke-width="1.3"/>
<line x1="93" y1="223.5" x2="97.5" y2="223.5" stroke="#000" stroke-width="1.3"/>
<line x1="89.5" y1="220.5" x2="97.5" y2="220.5" stroke="#000" stroke-width="1.3"/>
<line x1="93" y1="217.5" x2="97.5" y2="217.5" stroke="#000" stroke-width="1.3"/>
<line x1="93" y1="214.5" x2="97.5" y2="214.5" stroke="#000" stroke-width="1.3"/>
<line x1="93" y1="212.5" x2="97.5" y2="212.5" stroke="#000" stroke-width="1.3"/>
<line x1="93" y1="209.5" x2="97.5" y2="209.5" stroke="#000" stroke-width="1.3"/>
<line x1="89.5" y1="206.5" x2="97.5" y2="206.5" stroke="#000" stroke-width="1.3"/>
<line x1="99.5" y1="316.6" x2="99.5" y2="320.1" stroke="#000" stroke-width="1.0"/>
<line x1="103.5" y1="316.6" x2="103.5" y2="320.1" stroke="#000" stroke-width="1.0"/>
<line x1="107.5" y1="316.6" x2="107.5" y2="323.6" stroke="#000" stroke-width="1.3"/>
<line x1="131.5" y1="316.6" x2="131.5" y2="320.1" stroke="#000" stroke-width="1.0"/>
<line x1="145.5" y1="316.6" x2="145.5" y2="320.1" stroke="#000" stroke-width="1.0"/>
<line x1="155.5" y1="316.6" x2="155.5" y2="320.1" stroke="#000" stroke-width="1.0"/>
<line x1="162.5" y1="316.6" x2="162.5" y2="320.1" stroke="#000" stroke-width="1.0"/>
<line x1="169.5" y1="316.6" x2="169.5" y2="320.1" stroke="#000" stroke-width="1.0"/>
<line x1="174.5" y1="316.6" x2="174.5" y2="320.1" stroke="#000" stroke-width="1.0"/>
<line x1="179.5" y1="316.6" x2="179.5" y2="320.1" stroke="#000" stroke-width="1.0"/>
<line x1="183.5" y1="316.6" x2="183.5" y2="320.1" stroke="#000" stroke-width="1.0"/>
<line x1="186.5" y1="316.6" x2="186.5" y2="323.6" stroke="#000" stroke-width="1.3"/>
<line x1="210.5" y1="316.6" x2="210.5" y2="320.1" stroke="#000" stroke-width="1.0"/>
<line x1="224.5" y1="316.6" x2="224.5" y2="320.1" stroke="#000" stroke-width="1.0"/>
<line x1="234.5" y1="316.6" x2="234.5" y2="320.1" stroke="#000" stroke-width="1.0"/>
<line x1="242.5" y1="316.6" x2="242.5" y2="320.1" stroke="#000" stroke-width="1.0"/>
<line x1="248.5" y1="316.6" x2="248.5" y2="320.1" stroke="#000" stroke-width="1.0"/>
<line x1="254.5" y1="316.6" x2="254.5" y2="320.1" stroke="#000" stroke-width="1.0"/>
<text transform="translate(83.75 214.2) rotate(-90) scale(1.0318 1)" font-family="'Liberation Sans', sans-serif" font-weight="bold" font-size="13.405">80</text>
<text transform="translate(84.1 317.88) rotate(-90) scale(0.7896 1)" font-family="'Liberation Sans', sans-serif" font-weight="bold" font-size="15.197">0</text>
<text transform="translate(69.4 286.94) rotate(-90) scale(0.7651 1)" font-family="'Liberation Sans', sans-serif" font-weight="bold" font-size="17.491">Counts</text>
<text transform="translate(95.28 340.8) scale(0.8234 1)" font-family="'Liberation Sans', sans-serif" font-weight="normal" font-size="16.559" fill="#000" >10</text>
<text transform="translate(110.48 332.4) scale(1.0548 1)" font-family="'Liberation Sans', sans-serif" font-weight="normal" font-size="15.627" fill="#000" >2</text>
<text transform="translate(174.98 340.6) scale(0.8198 1)" font-family="'Liberation Sans', sans-serif" font-weight="normal" font-size="16.631" fill="#000" >10</text>
<text transform="translate(190.42 332.2) scale(0.9486 1)" font-family="'Liberation Sans', sans-serif" font-weight="normal" font-size="16.201" fill="#000" >3</text>
<text transform="translate(121.4 355.3) scale(0.8403 1)" font-family="'Liberation Sans', sans-serif" font-weight="bold" font-size="15.862" fill="#000" >Propidium Iodide</text>
<text transform="translate(99.43 221.9) scale(1.0862 1)" font-family="'Liberation Serif', serif" font-weight="bold" font-size="12.302" fill="#000" >2N</text>
<text transform="translate(127.84 299.4) scale(1.0611 1)" font-family="'Liberation Serif', serif" font-weight="bold" font-size="12.395" fill="#000" >4N</text>
<text transform="translate(149.57 282.5) scale(1.1747 1)" font-family="'Liberation Serif', serif" font-weight="bold" font-size="11.278" fill="#000" >8N</text>
<text transform="translate(164.55 213.75) scale(1.0622 1)" font-family="'Liberation Serif', serif" font-weight="bold" font-size="12.302" fill="#000" >16N</text>
<text transform="translate(192.61 283.1) scale(1.0710 1)" font-family="'Liberation Serif', serif" font-weight="bold" font-size="12.226" fill="#000" >32N</text>
<text transform="translate(212.64 307.5) scale(0.9899 1)" font-family="'Liberation Serif', serif" font-weight="bold" font-size="13.208" fill="#000" >64N</text>
<text transform="translate(229.42 227.5) scale(1.0858 1)" font-family="'Liberation Sans', sans-serif" font-weight="bold" font-size="24.138" fill="#000" >iii</text>
<path d="M368.9,316.8 L368.9,290.6 L369.5,290.6 L369.8,290.6 L369.8,295 L370.1,295 L370.55,295 L370.55,291.25 L371,291.25 L371.5,291.25 L371.5,291 L372,291 L372.62,291 L372.62,286.25 L373.25,286.25 L373.88,286.25 L373.88,283.75 L374.5,283.75 L375.45,283.75 L375.45,282.5 L376.4,282.5 L377,282.5 L377,281.25 L377.6,281.25 L377.93,281.25 L377.93,271.9 L378.25,271.9 L378.88,271.9 L378.88,270.6 L379.5,270.6 L379.65,270.6 L379.65,259.4 L379.8,259.4 L380.6,259.4 L380.8,259.4 L380.8,281.25 L381,281.25 L381.2,281.25 L381.2,293.1 L381.4,293.1 L382,293.1 L382,303.75 L382.6,303.75 L383.25,303.75 L383.25,305 L383.9,305 L384.45,305 L384.45,303.75 L385,303.75 L385.7,303.75 L385.7,305 L386.4,305 L387,305 L387,302.5 L387.6,302.5 L388.25,302.5 L388.25,305 L388.9,305 L389.45,305 L389.45,302.5 L390,302.5 L390.7,302.5 L390.7,303.75 L391.4,303.75 L392,303.75 L392,307.5 L392.6,307.5 L393.25,307.5 L393.25,303.1 L393.9,303.1 L394.82,303.1 L394.82,302.5 L395.75,302.5 L397.62,302.5 L397.62,301.9 L399.5,301.9 L400.75,301.9 L400.75,299.4 L402,299.4 L402.95,299.4 L402.95,296.25 L403.9,296.25 L404.82,296.25 L404.82,294.4 L405.75,294.4 L406.38,294.4 L406.38,290 L407,290 L407.62,290 L407.62,286.25 L408.25,286.25 L408.88,286.25 L408.88,275 L409.5,275 L410.45,275 L410.45,271.25 L411.4,271.25 L412,271.25 L412,265 L412.6,265 L413.25,265 L413.25,262.5 L413.9,262.5 L414.15,262.5 L414.15,251.25 L414.4,251.25 L415,251.25 L415,250 L415.6,250 L415.7,250 L415.7,245.6 L415.8,245.6 L416.4,245.6 L416.7,245.6 L416.7,250 L417,250 L417.3,250 L417.3,262.5 L417.6,262.5 L418.25,262.5 L418.25,288.75 L418.9,288.75 L419.5,288.75 L419.5,297.5 L420.1,297.5 L420.75,297.5 L420.75,300 L421.4,300 L422.25,300 L422.25,301.25 L423.1,301.25 L423.8,301.25 L423.8,300.6 L424.5,300.6 L426.9,300.6 L427.45,300.6 L427.45,299.4 L428,299.4 L428.5,299.4 L428.5,291.25 L429,291.25 L429.8,291.25 L429.8,290 L430.6,290 L431.25,290 L431.25,285 L431.9,285 L432.2,285 L432.2,283.1 L432.5,283.1 L433.12,283.1 L433.12,276.9 L433.75,276.9 L434.38,276.9 L434.38,273.75 L435,273.75 L435.5,273.75 L435.5,262.5 L436,262.5 L436.12,262.5 L436.12,261.25 L436.25,261.25 L436.88,261.25 L436.88,247.5 L437.5,247.5 L438.12,247.5 L438.12,241.25 L438.75,241.25 L439.68,241.25 L439.68,236.25 L440.6,236.25 L441.25,236.25 L441.25,230 L441.9,230 L442.5,230 L442.5,225 L443.1,225 L443.75,225 L443.75,218.75 L444.4,218.75 L445.32,218.75 L445.32,215.6 L446.25,215.6 L446.88,215.6 L446.88,213.1 L447.5,213.1 L448,213.1 L448,213.75 L448.5,213.75 L448.75,213.75 L448.75,225 L449,225 L449.2,225 L449.2,250 L449.4,250 L449.57,250 L449.57,265 L449.75,265 L450.12,265 L450.12,265.6 L450.5,265.6 L450.75,265.6 L450.75,297.5 L451,297.5 L451.62,297.5 L451.62,298.75 L452.25,298.75 L453,298.75 L453,296.25 L453.75,296.25 L454.38,296.25 L454.38,294.4 L455,294.4 L455.62,294.4 L455.62,296.9 L456.25,296.9 L456.88,296.9 L456.88,297.5 L457.5,297.5 L458.12,297.5 L458.12,295.6 L458.75,295.6 L459.38,295.6 L459.38,293.1 L460,293.1 L460.95,293.1 L460.95,287.5 L461.9,287.5 L462.5,287.5 L462.5,283.75 L463.1,283.75 L463.75,283.75 L463.75,280 L464.4,280 L465,280 L465,275 L465.6,275 L466.25,275 L466.25,268.75 L466.9,268.75 L467.5,268.75 L467.5,265.6 L468.1,265.6 L468.75,265.6 L468.75,263.1 L469.4,263.1 L470,263.1 L470,262.5 L470.6,262.5 L471.25,262.5 L471.25,265 L471.9,265 L472.5,265 L472.5,264.4 L473.1,264.4 L473.75,264.4 L473.75,266.25 L474.4,266.25 L475,266.25 L475,269 L475.6,269 L476.25,269 L476.25,273.75 L476.9,273.75 L477.5,273.75 L477.5,277.5 L478.1,277.5 L478.75,277.5 L478.75,285 L479.4,285 L479.7,285 L479.7,292 L480,292 L480.3,292 L480.3,305 L480.6,305 L481.25,305 L481.25,308.75 L481.9,308.75 L482.5,308.75 L482.5,310.6 L483.1,310.6 L484.35,310.6 L484.35,311.25 L485.6,311.25 L486.55,311.25 L486.55,311.9 L487.5,311.9 L488.45,311.9 L488.45,310.6 L489.4,310.6 L491.9,310.6 L492.82,310.6 L492.82,307.5 L493.75,307.5 L495,307.5 L495,305.6 L496.25,305.6 L497.18,305.6 L497.18,306.25 L498.1,306.25 L499.05,306.25 L499.05,307.5 L500,307.5 L500.95,307.5 L500.95,309.4 L501.9,309.4 L502.82,309.4 L502.82,311.25 L503.75,311.25 L504.68,311.25 L504.68,313.75 L505.6,313.75 L506.8,313.75 L506.8,314.4 L508,314.4 L509,314.4 L509,313.75 L510,313.75 L511.25,313.75 L511.25,315 L512.5,315 L517,315 L517,316.8 Z" fill="#686868" stroke="#000" stroke-width="1.7" stroke-linejoin="miter"/>
<rect x="366" y="202.5" width="151.7" height="114.3" fill="none" stroke="#000" stroke-width="2.0"/>
<line x1="359.5" y1="315.5" x2="366" y2="315.5" stroke="#000" stroke-width="1.3"/>
<line x1="362.5" y1="311.5" x2="366" y2="311.5" stroke="#000" stroke-width="1.3"/>
<line x1="362.5" y1="308.5" x2="366" y2="308.5" stroke="#000" stroke-width="1.3"/>
<line x1="362.5" y1="304.5" x2="366" y2="304.5" stroke="#000" stroke-width="1.3"/>
<line x1="362.5" y1="301.5" x2="366" y2="301.5" stroke="#000" stroke-width="1.3"/>
<line x1="362.5" y1="297.5" x2="366" y2="297.5" stroke="#000" stroke-width="1.3"/>
<line x1="359.5" y1="294.5" x2="366" y2="294.5" stroke="#000" stroke-width="1.3"/>
<line x1="362.5" y1="290.5" x2="366" y2="290.5" stroke="#000" stroke-width="1.3"/>
<line x1="362.5" y1="287.5" x2="366" y2="287.5" stroke="#000" stroke-width="1.3"/>
<line x1="362.5" y1="283.5" x2="366" y2="283.5" stroke="#000" stroke-width="1.3"/>
<line x1="362.5" y1="280.5" x2="366" y2="280.5" stroke="#000" stroke-width="1.3"/>
<line x1="362.5" y1="276.5" x2="366" y2="276.5" stroke="#000" stroke-width="1.3"/>
<line x1="359.5" y1="273.5" x2="366" y2="273.5" stroke="#000" stroke-width="1.3"/>
<line x1="362.5" y1="269.5" x2="366" y2="269.5" stroke="#000" stroke-width="1.3"/>
<line x1="362.5" y1="266.5" x2="366" y2="266.5" stroke="#000" stroke-width="1.3"/>
<line x1="362.5" y1="262.5" x2="366" y2="262.5" stroke="#000" stroke-width="1.3"/>
<line x1="362.5" y1="259.5" x2="366" y2="259.5" stroke="#000" stroke-width="1.3"/>
<line x1="362.5" y1="255.5" x2="366" y2="255.5" stroke="#000" stroke-width="1.3"/>
<line x1="359.5" y1="252.5" x2="366" y2="252.5" stroke="#000" stroke-width="1.3"/>
<line x1="362.5" y1="248.5" x2="366" y2="248.5" stroke="#000" stroke-width="1.3"/>
<line x1="362.5" y1="245.5" x2="366" y2="245.5" stroke="#000" stroke-width="1.3"/>
<line x1="362.5" y1="241.5" x2="366" y2="241.5" stroke="#000" stroke-width="1.3"/>
<line x1="362.5" y1="238.5" x2="366" y2="238.5" stroke="#000" stroke-width="1.3"/>
<line x1="362.5" y1="234.5" x2="366" y2="234.5" stroke="#000" stroke-width="1.3"/>
<line x1="359.5" y1="231.5" x2="366" y2="231.5" stroke="#000" stroke-width="1.3"/>
<line x1="362.5" y1="227.5" x2="366" y2="227.5" stroke="#000" stroke-width="1.3"/>
<line x1="362.5" y1="224.5" x2="366" y2="224.5" stroke="#000" stroke-width="1.3"/>
<line x1="362.5" y1="220.5" x2="366" y2="220.5" stroke="#000" stroke-width="1.3"/>
<line x1="362.5" y1="217.5" x2="366" y2="217.5" stroke="#000" stroke-width="1.3"/>
<line x1="362.5" y1="213.5" x2="366" y2="213.5" stroke="#000" stroke-width="1.3"/>
<line x1="359.5" y1="210.5" x2="366" y2="210.5" stroke="#000" stroke-width="1.3"/>
<line x1="362.5" y1="206.5" x2="366" y2="206.5" stroke="#000" stroke-width="1.3"/>
<line x1="374.5" y1="316.8" x2="374.5" y2="320.3" stroke="#000" stroke-width="1.0"/>
<line x1="381.5" y1="316.8" x2="381.5" y2="320.3" stroke="#000" stroke-width="1.0"/>
<line x1="387.5" y1="316.8" x2="387.5" y2="320.3" stroke="#000" stroke-width="1.0"/>
<line x1="393.5" y1="316.8" x2="393.5" y2="323.8" stroke="#000" stroke-width="1.3"/>
<line x1="431.5" y1="316.8" x2="431.5" y2="320.3" stroke="#000" stroke-width="1.0"/>
<line x1="452.5" y1="316.8" x2="452.5" y2="320.3" stroke="#000" stroke-width="1.0"/>
<line x1="468.5" y1="316.8" x2="468.5" y2="320.3" stroke="#000" stroke-width="1.0"/>
<line x1="480.5" y1="316.8" x2="480.5" y2="320.3" stroke="#000" stroke-width="1.0"/>
<line x1="490.5" y1="316.8" x2="490.5" y2="320.3" stroke="#000" stroke-width="1.0"/>
<line x1="498.5" y1="316.8" x2="498.5" y2="320.3" stroke="#000" stroke-width="1.0"/>
<line x1="506.5" y1="316.8" x2="506.5" y2="320.3" stroke="#000" stroke-width="1.0"/>
<line x1="512.5" y1="316.8" x2="512.5" y2="320.3" stroke="#000" stroke-width="1.0"/>
<text transform="translate(354.4 220.87) rotate(-90) scale(0.9165 1)" font-family="'Liberation Sans', sans-serif" font-weight="bold" font-size="15.269">150</text>
<text transform="translate(354.2 318.53) rotate(-90) scale(0.9344 1)" font-family="'Liberation Sans', sans-serif" font-weight="bold" font-size="14.194">0</text>
<text transform="translate(338.9 284.5) rotate(-90) scale(0.9851 1)" font-family="'Liberation Sans', sans-serif" font-weight="normal" font-size="14.194">Counts</text>
<text transform="translate(382.58 339.7) scale(0.7964 1)" font-family="'Liberation Sans', sans-serif" font-weight="normal" font-size="15.484" fill="#000" >10</text>
<text transform="translate(396.06 331.2) scale(1.0132 1)" font-family="'Liberation Sans', sans-serif" font-weight="normal" font-size="14.337" fill="#000" >3</text>
<text transform="translate(389.62 352.3) scale(1.0322 1)" font-family="'Liberation Sans', sans-serif" font-weight="bold" font-size="12.690" fill="#000" >Propidiun Iodide</text>
<text transform="translate(369.59 255.6) scale(1.0213 1)" font-family="'Liberation Sans', sans-serif" font-weight="bold" font-size="12.473" fill="#000" >8N</text>
<text transform="translate(402.28 241.9) scale(1.1294 1)" font-family="'Liberation Sans', sans-serif" font-weight="bold" font-size="11.685" fill="#000" >16N</text>
<text transform="translate(437.21 211.25) scale(1.1991 1)" font-family="'Liberation Sans', sans-serif" font-weight="bold" font-size="10.753" fill="#000" >32N</text>
<text transform="translate(461.4 256.25) scale(1.1428 1)" font-family="'Liberation Sans', sans-serif" font-weight="bold" font-size="11.685" fill="#000" >64N</text>
<text transform="translate(486.07 298.1) scale(1.0642 1)" font-family="'Liberation Sans', sans-serif" font-weight="bold" font-size="12.473" fill="#000" >128N</text>
<text transform="translate(493.27 223.75) scale(1.0221 1)" font-family="'Liberation Sans', sans-serif" font-weight="bold" font-size="24.138" fill="#000" >iv</text>
<text x="64.88" y="397.75" font-family="'Liberation Sans', sans-serif" font-weight="normal" font-size="13.600" letter-spacing="0.353" fill="#000">Ploidy of megakaryocytes in</text>
<text x="147.53" y="412.8" font-family="'Liberation Sans', sans-serif" font-weight="normal" font-size="13.600" letter-spacing="0.613" fill="#000">vivo</text>
<rect x="112.5" y="448.5" width="126" height="79.4" fill="none" stroke="#6a6a6a" stroke-width="1"/>
<line x1="108.75" y1="527.2" x2="112.5" y2="527.2" stroke="#6a6a6a" stroke-width="1.0"/>
<text x="94.62" y="531.2" font-family="'Liberation Sans', sans-serif" font-weight="normal" font-size="12.043" letter-spacing="0.000" fill="#000">0</text>
<line x1="108.75" y1="511.2" x2="112.5" y2="511.2" stroke="#6a6a6a" stroke-width="1.0"/>
<text x="94.61" y="516.5" font-family="'Liberation Sans', sans-serif" font-weight="normal" font-size="12.218" letter-spacing="0.000" fill="#000">5</text>
<line x1="108.75" y1="494.6" x2="112.5" y2="494.6" stroke="#6a6a6a" stroke-width="1.0"/>
<text x="87.1" y="499.6" font-family="'Liberation Sans', sans-serif" font-weight="normal" font-size="12.043" letter-spacing="1.987" fill="#000">10</text>
<line x1="108.75" y1="479.7" x2="112.5" y2="479.7" stroke="#6a6a6a" stroke-width="1.0"/>
<text x="87.08" y="484.3" font-family="'Liberation Sans', sans-serif" font-weight="normal" font-size="12.218" letter-spacing="2.043" fill="#000">15</text>
<line x1="108.75" y1="463.6" x2="112.5" y2="463.6" stroke="#6a6a6a" stroke-width="1.0"/>
<text x="86.4" y="467.8" font-family="'Liberation Sans', sans-serif" font-weight="normal" font-size="12.043" letter-spacing="2.286" fill="#000">20</text>
<line x1="108.75" y1="448.9" x2="112.5" y2="448.9" stroke="#6a6a6a" stroke-width="1.0"/>
<text x="86.4" y="453.4" font-family="'Liberation Sans', sans-serif" font-weight="normal" font-size="12.043" letter-spacing="2.316" fill="#000">25</text>
<rect x="125.75" y="506.7" width="18.15" height="21.2" fill="#b8b8b8" stroke="#000" stroke-width="1.7"/>
<rect x="143.9" y="496.7" width="18.1" height="31.2" fill="#686868" stroke="#000" stroke-width="1.7"/>
<rect x="188.9" y="466.75" width="18.1" height="61.15" fill="#b8b8b8" stroke="#000" stroke-width="1.7"/>
<rect x="207" y="470.2" width="16" height="57.7" fill="#686868" stroke="#000" stroke-width="1.7"/>
<line x1="112.5" y1="527.9" x2="238.75" y2="527.9" stroke="#000" stroke-width="1.6"/>
<line x1="133.5" y1="484.4" x2="133.5" y2="527" stroke="#444" stroke-width="1.0"/>
<line x1="130.3" y1="484.4" x2="136.7" y2="484.4" stroke="#444" stroke-width="1.0"/>
<line x1="130.3" y1="527" x2="136.7" y2="527" stroke="#444" stroke-width="1.0"/>
<line x1="151.6" y1="481.25" x2="151.6" y2="511.5" stroke="#444" stroke-width="1.0"/>
<line x1="148.4" y1="481.25" x2="154.8" y2="481.25" stroke="#444" stroke-width="1.0"/>
<line x1="148.4" y1="511.5" x2="154.8" y2="511.5" stroke="#444" stroke-width="1.0"/>
<line x1="196.5" y1="455" x2="196.5" y2="478.1" stroke="#444" stroke-width="1.0"/>
<line x1="193.3" y1="455" x2="199.7" y2="455" stroke="#444" stroke-width="1.0"/>
<line x1="193.3" y1="478.1" x2="199.7" y2="478.1" stroke="#444" stroke-width="1.0"/>
<line x1="216.25" y1="459.75" x2="216.25" y2="480.25" stroke="#444" stroke-width="1.0"/>
<line x1="213.05" y1="459.75" x2="219.45" y2="459.75" stroke="#444" stroke-width="1.0"/>
<line x1="213.05" y1="480.25" x2="219.45" y2="480.25" stroke="#444" stroke-width="1.0"/>
<text x="135.17" y="546.6" font-family="'Liberation Sans', sans-serif" font-weight="normal" font-size="11.300" letter-spacing="0.610" fill="#000">All</text>
<text x="192.63" y="546.6" font-family="'Liberation Sans', sans-serif" font-weight="normal" font-size="11.300" letter-spacing="1.476" fill="#000">&gt;4N</text>
<text x="335.78" y="395" font-family="'Liberation Sans', sans-serif" font-weight="normal" font-size="13.600" letter-spacing="0.311" fill="#000">Ploidy of megakaryocytes in</text>
<text x="412.23" y="412.3" font-family="'Liberation Sans', sans-serif" font-weight="normal" font-size="13.600" letter-spacing="0.660" fill="#000">vitro</text>
<rect x="366.5" y="446.5" width="131" height="82.6" fill="none" stroke="#6a6a6a" stroke-width="1"/>
<line x1="363.5" y1="529" x2="367" y2="529" stroke="#6a6a6a" stroke-width="1.0"/>
<text x="351.62" y="532.25" font-family="'Liberation Sans', sans-serif" font-weight="normal" font-size="11.900" letter-spacing="0.000" fill="#000">0</text>
<line x1="363.5" y1="501.2" x2="367" y2="501.2" stroke="#6a6a6a" stroke-width="1.0"/>
<text x="343.31" y="505.15" font-family="'Liberation Sans', sans-serif" font-weight="normal" font-size="11.900" letter-spacing="2.533" fill="#000">20</text>
<line x1="363.5" y1="473.3" x2="367" y2="473.3" stroke="#6a6a6a" stroke-width="1.0"/>
<text x="343.63" y="477.95" font-family="'Liberation Sans', sans-serif" font-weight="normal" font-size="11.900" letter-spacing="2.205" fill="#000">40</text>
<line x1="363.5" y1="446.75" x2="367" y2="446.75" stroke="#6a6a6a" stroke-width="1.0"/>
<text x="343.31" y="451.35" font-family="'Liberation Sans', sans-serif" font-weight="normal" font-size="11.900" letter-spacing="2.533" fill="#000">60</text>
<rect x="376.3" y="468.1" width="13.2" height="61" fill="#b8b8b8" stroke="#000" stroke-width="1.7"/>
<rect x="389.5" y="461.6" width="11.8" height="67.5" fill="#686868" stroke="#000" stroke-width="1.7"/>
<rect x="418.2" y="500.3" width="13.1" height="28.8" fill="#b8b8b8" stroke="#000" stroke-width="1.7"/>
<rect x="431.3" y="479.8" width="13.2" height="49.3" fill="#686868" stroke="#000" stroke-width="1.7"/>
<rect x="461.6" y="482.9" width="13.6" height="46.2" fill="#b8b8b8" stroke="#000" stroke-width="1.7"/>
<rect x="475.2" y="488.3" width="11.5" height="40.8" fill="#686868" stroke="#000" stroke-width="1.7"/>
<line x1="367" y1="529.1" x2="497.8" y2="529.1" stroke="#000" stroke-width="1.6"/>
<text transform="translate(385.4 548.8) scale(0.9027 1)" font-family="'Liberation Sans', sans-serif" font-weight="normal" font-size="11.782" fill="#000" >1</text>
<text transform="translate(428.26 548.8) scale(1.0977 1)" font-family="'Liberation Sans', sans-serif" font-weight="normal" font-size="11.613" fill="#000" >2</text>
<text transform="translate(470.44 548.8) scale(1.0515 1)" font-family="'Liberation Sans', sans-serif" font-weight="normal" font-size="11.613" fill="#000" >3</text>
<rect x="180.6" y="587.5" width="37.4" height="22.5" fill="#b8b8b8" stroke="#000" stroke-width="1.3"/>
<text transform="translate(222.26 603.8) scale(1.0072 1)" font-family="'Liberation Serif', serif" font-weight="normal" font-size="15.849" fill="#000" >CF1</text>
<rect x="330.6" y="586.9" width="37.4" height="23.1" fill="#686868" stroke="#000" stroke-width="1.3"/>
<text transform="translate(375.55 602.9) scale(1.1623 1)" font-family="'Liberation Serif', serif" font-weight="normal" font-size="14.491" fill="#000" >p21</text>
<text transform="translate(399.14 600) scale(1.3428 1)" font-family="'Liberation Serif', serif" font-weight="normal" font-size="13.182" fill="#000" >-/-</text>
</svg></body></html>
